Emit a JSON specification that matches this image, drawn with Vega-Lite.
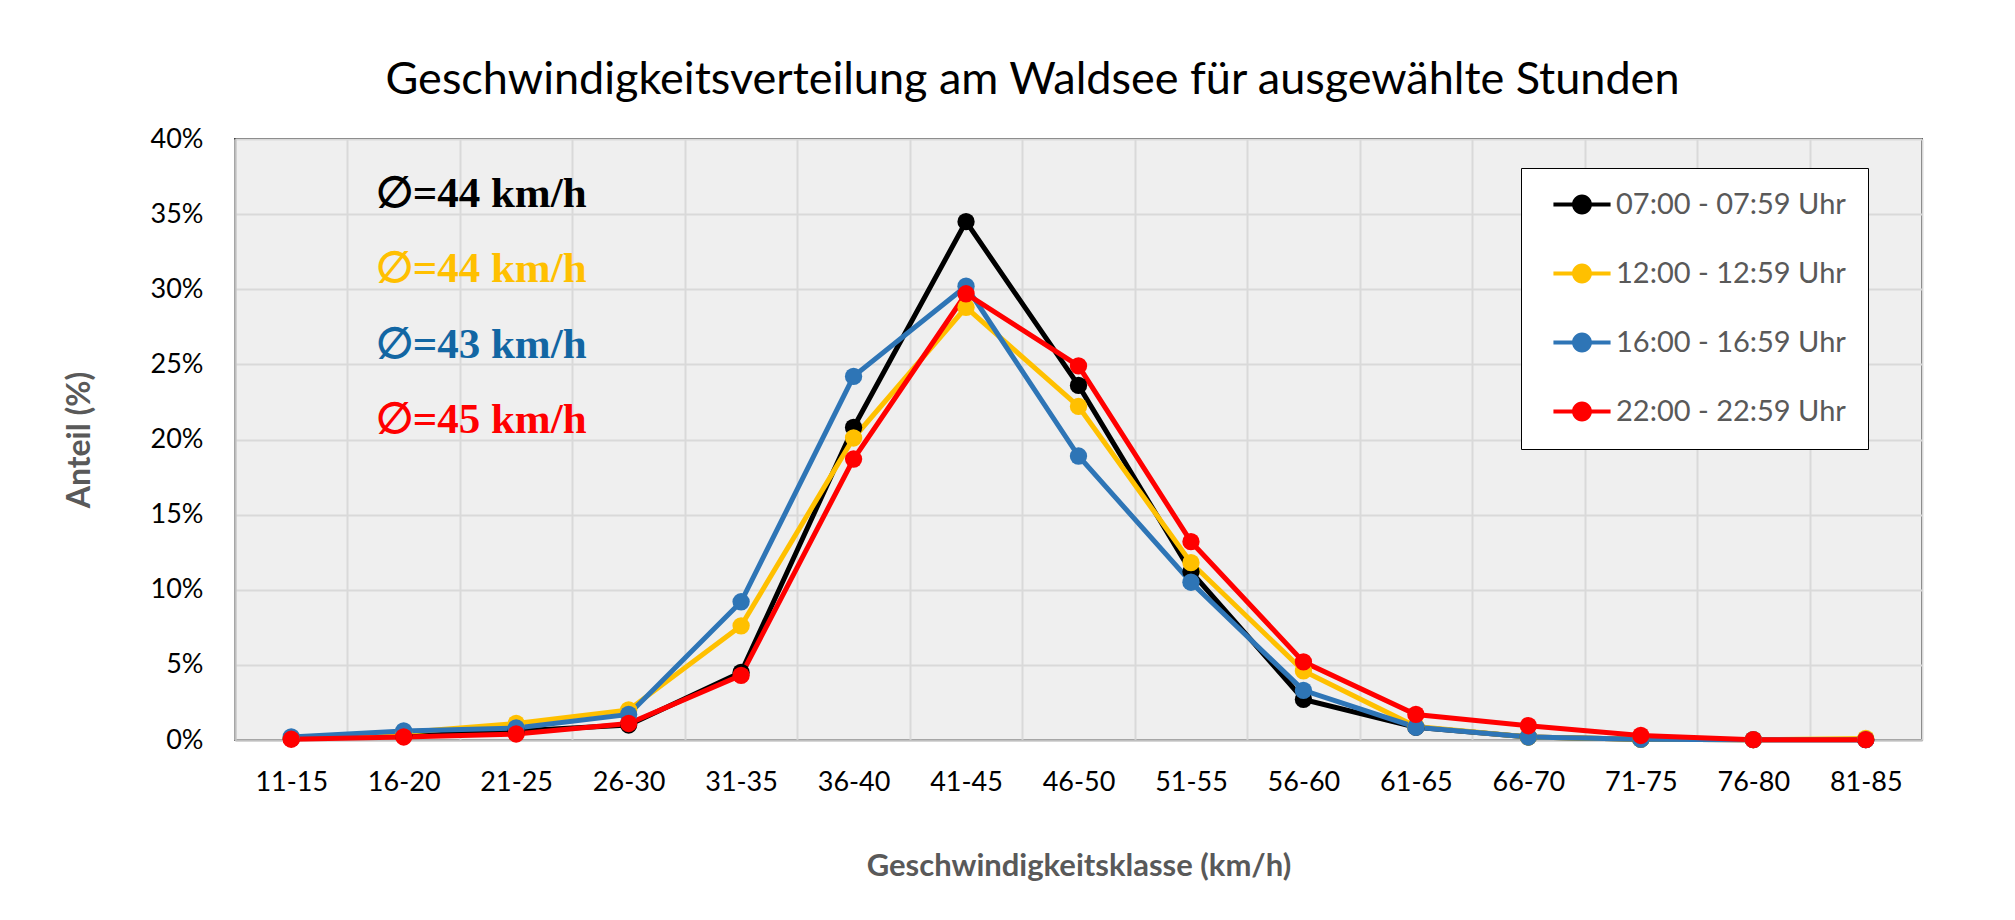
{
  "$schema": "https://vega.github.io/schema/vega-lite/v6.json",
  "width": 1687,
  "height": 601,
  "autosize": {"type": "none"},
  "padding": {"left": 235, "top": 139, "right": 93, "bottom": 180},
  "background": "white",
  "title": {
    "text": "Geschwindigkeitsverteilung am Waldsee für ausgewählte Stunden",
    "font": "Lato",
    "fontSize": 45,
    "fontWeight": "normal",
    "color": "black",
    "anchor": "middle",
    "dx": -46,
    "dy": 57,
    "offset": 43,
    "baseline": "alphabetic"
  },
  "config": {
    "view": {"fill": "#efefef", "stroke": "#404040", "strokeWidth": 2},
    "font": "Lato"
  },
  "datasets": {
    "series": [
      {"k": "11-15", "s": "07:00 - 07:59 Uhr", "v": 0.1},
      {"k": "16-20", "s": "07:00 - 07:59 Uhr", "v": 0.3},
      {"k": "21-25", "s": "07:00 - 07:59 Uhr", "v": 0.6},
      {"k": "26-30", "s": "07:00 - 07:59 Uhr", "v": 1.0},
      {"k": "31-35", "s": "07:00 - 07:59 Uhr", "v": 4.5},
      {"k": "36-40", "s": "07:00 - 07:59 Uhr", "v": 20.8},
      {"k": "41-45", "s": "07:00 - 07:59 Uhr", "v": 34.5},
      {"k": "46-50", "s": "07:00 - 07:59 Uhr", "v": 23.6},
      {"k": "51-55", "s": "07:00 - 07:59 Uhr", "v": 11.2},
      {"k": "56-60", "s": "07:00 - 07:59 Uhr", "v": 2.7},
      {"k": "61-65", "s": "07:00 - 07:59 Uhr", "v": 0.85},
      {"k": "66-70", "s": "07:00 - 07:59 Uhr", "v": 0.2},
      {"k": "71-75", "s": "07:00 - 07:59 Uhr", "v": 0.05},
      {"k": "76-80", "s": "07:00 - 07:59 Uhr", "v": 0.02},
      {"k": "81-85", "s": "07:00 - 07:59 Uhr", "v": 0.02},
      {"k": "11-15", "s": "12:00 - 12:59 Uhr", "v": 0.15},
      {"k": "16-20", "s": "12:00 - 12:59 Uhr", "v": 0.5},
      {"k": "21-25", "s": "12:00 - 12:59 Uhr", "v": 1.1},
      {"k": "26-30", "s": "12:00 - 12:59 Uhr", "v": 2.0},
      {"k": "31-35", "s": "12:00 - 12:59 Uhr", "v": 7.6},
      {"k": "36-40", "s": "12:00 - 12:59 Uhr", "v": 20.1},
      {"k": "41-45", "s": "12:00 - 12:59 Uhr", "v": 28.8},
      {"k": "46-50", "s": "12:00 - 12:59 Uhr", "v": 22.2},
      {"k": "51-55", "s": "12:00 - 12:59 Uhr", "v": 11.8},
      {"k": "56-60", "s": "12:00 - 12:59 Uhr", "v": 4.6},
      {"k": "61-65", "s": "12:00 - 12:59 Uhr", "v": 0.9},
      {"k": "66-70", "s": "12:00 - 12:59 Uhr", "v": 0.2},
      {"k": "71-75", "s": "12:00 - 12:59 Uhr", "v": 0.05},
      {"k": "76-80", "s": "12:00 - 12:59 Uhr", "v": 0.02},
      {"k": "81-85", "s": "12:00 - 12:59 Uhr", "v": 0.1},
      {"k": "11-15", "s": "16:00 - 16:59 Uhr", "v": 0.2},
      {"k": "16-20", "s": "16:00 - 16:59 Uhr", "v": 0.6},
      {"k": "21-25", "s": "16:00 - 16:59 Uhr", "v": 0.8},
      {"k": "26-30", "s": "16:00 - 16:59 Uhr", "v": 1.7},
      {"k": "31-35", "s": "16:00 - 16:59 Uhr", "v": 9.2},
      {"k": "36-40", "s": "16:00 - 16:59 Uhr", "v": 24.2},
      {"k": "41-45", "s": "16:00 - 16:59 Uhr", "v": 30.2},
      {"k": "46-50", "s": "16:00 - 16:59 Uhr", "v": 18.9},
      {"k": "51-55", "s": "16:00 - 16:59 Uhr", "v": 10.5},
      {"k": "56-60", "s": "16:00 - 16:59 Uhr", "v": 3.3},
      {"k": "61-65", "s": "16:00 - 16:59 Uhr", "v": 0.85},
      {"k": "66-70", "s": "16:00 - 16:59 Uhr", "v": 0.2},
      {"k": "71-75", "s": "16:00 - 16:59 Uhr", "v": 0.05},
      {"k": "76-80", "s": "16:00 - 16:59 Uhr", "v": 0.02},
      {"k": "81-85", "s": "16:00 - 16:59 Uhr", "v": 0.02},
      {"k": "11-15", "s": "22:00 - 22:59 Uhr", "v": 0.05},
      {"k": "16-20", "s": "22:00 - 22:59 Uhr", "v": 0.2},
      {"k": "21-25", "s": "22:00 - 22:59 Uhr", "v": 0.4},
      {"k": "26-30", "s": "22:00 - 22:59 Uhr", "v": 1.1},
      {"k": "31-35", "s": "22:00 - 22:59 Uhr", "v": 4.3},
      {"k": "36-40", "s": "22:00 - 22:59 Uhr", "v": 18.7},
      {"k": "41-45", "s": "22:00 - 22:59 Uhr", "v": 29.7},
      {"k": "46-50", "s": "22:00 - 22:59 Uhr", "v": 24.9},
      {"k": "51-55", "s": "22:00 - 22:59 Uhr", "v": 13.2},
      {"k": "56-60", "s": "22:00 - 22:59 Uhr", "v": 5.2},
      {"k": "61-65", "s": "22:00 - 22:59 Uhr", "v": 1.7},
      {"k": "66-70", "s": "22:00 - 22:59 Uhr", "v": 0.95},
      {"k": "71-75", "s": "22:00 - 22:59 Uhr", "v": 0.3},
      {"k": "76-80", "s": "22:00 - 22:59 Uhr", "v": 0.02},
      {"k": "81-85", "s": "22:00 - 22:59 Uhr", "v": 0.02}
    ],
    "notes": [
      {"k": "16-20", "s": "07:00 - 07:59 Uhr", "t": "∅=44 km/h", "v": 35.5},
      {"k": "16-20", "s": "12:00 - 12:59 Uhr", "t": "∅=44 km/h", "v": 30.5},
      {"k": "16-20", "s": "16:00 - 16:59 Uhr", "t": "∅=43 km/h", "v": 25.4},
      {"k": "16-20", "s": "22:00 - 22:59 Uhr", "t": "∅=45 km/h", "v": 20.4}
    ],
    "divider": [
      {"k": "31-35"}
    ]
  },
  "encoding": {
    "x": {
      "field": "k",
      "type": "nominal",
      "sort": null,
      "scale": {"type": "band", "paddingInner": 0, "paddingOuter": 0, "domain": ["11-15","16-20","21-25","26-30","31-35","36-40","41-45","46-50","51-55","56-60","61-65","66-70","71-75","76-80","81-85"]},
      "axis": {
        "title": "Geschwindigkeitsklasse (km/h)",
        "labelAngle": 0,
        "labelFont": "Lato",
        "labelFontSize": 27,
        "labelColor": "black",
        "labelPadding": 29,
        "ticks": false,
        "domainColor": "#bfbfbf",
        "domainWidth": 2,
        "grid": true,
        "gridColor": "#d9d9d9",
        "gridWidth": 2,
        "tickBand": "extent",
        "titleFont": "Lato",
        "titleFontSize": 31,
        "titleFontWeight": "bold",
        "titleColor": "#595959",
        "titlePadding": 56
      }
    },
    "y": {
      "field": "v",
      "type": "quantitative",
      "scale": {"domain": [0, 40], "nice": false},
      "axis": {
        "values": [0, 5, 10, 15, 20, 25, 30, 35, 40],
        "labelExpr": "datum.value + '%'",
        "title": "Anteil (%)",
        "labelFont": "Lato",
        "labelFontSize": 27,
        "labelColor": "black",
        "labelPadding": 32,
        "ticks": false,
        "domainColor": "#bfbfbf",
        "domainWidth": 2,
        "grid": true,
        "gridColor": "#d9d9d9",
        "gridWidth": 2,
        "titleFont": "Lato",
        "titleFontSize": 32,
        "titleFontWeight": "bold",
        "titleColor": "#595959",
        "titlePadding": 54
      }
    }
  },
  "layer": [
    {
      "data": {"name": "divider"},
      "mark": {"type": "rule", "color": "black", "strokeWidth": 2.5, "strokeDash": [8, 4]},
      "encoding": {
        "x": {"field": "k", "type": "nominal", "bandPosition": 0},
        "y": {"datum": 0},
        "y2": {"datum": 40}
      }
    },
    {
      "data": {"name": "series"},
      "mark": {"type": "line", "strokeWidth": 5},
      "encoding": {
        "color": {
          "field": "s",
          "type": "nominal",
          "scale": {"domain": ["07:00 - 07:59 Uhr", "12:00 - 12:59 Uhr", "16:00 - 16:59 Uhr", "22:00 - 22:59 Uhr"], "range": ["#000000", "#ffc000", "#2e75b6", "#ff0000"]}
        }
      }
    },
    {
      "data": {"name": "series"},
      "mark": {"type": "point", "filled": true, "size": 300, "opacity": 1},
      "encoding": {
        "color": {
          "field": "s",
          "type": "nominal",
          "scale": {"domain": ["07:00 - 07:59 Uhr", "12:00 - 12:59 Uhr", "16:00 - 16:59 Uhr", "22:00 - 22:59 Uhr"], "range": ["#000000", "#ffc000", "#2e75b6", "#ff0000"]},
          "legend": {
            "orient": "none",
            "legendX": 1286,
            "legendY": 29,
            "title": null,
            "fillColor": "white",
            "strokeColor": "black",
            "padding": 22,
            "symbolType": "M -2.04 -0.14 H 2.04 V 0.14 H -2.04 Z M 0.71 0 A 0.71 0.71 0 1 1 -0.71 0 A 0.71 0.71 0 1 1 0.71 0 Z",
            "symbolSize": 784,
            "symbolStrokeWidth": 0,
            "symbolOffset": 24.5,
            "labelOffset": 19.5,
            "rowPadding": 39,
            "labelFont": "Lato",
            "labelFontSize": 29,
            "labelColor": "#595959",
            "labelLimit": 400
          }
        }
      }
    },
    {
      "data": {"name": "notes"},
      "mark": {"type": "text", "align": "left", "baseline": "alphabetic", "dx": -28, "font": "Liberation Serif", "fontSize": 43, "fontWeight": "bold"},
      "encoding": {
        "text": {"field": "t"},
        "color": {
          "condition": {"test": "datum.s == '16:00 - 16:59 Uhr'", "value": "#1266a3"},
          "field": "s",
          "type": "nominal"
        }
      }
    }
  ]
}
